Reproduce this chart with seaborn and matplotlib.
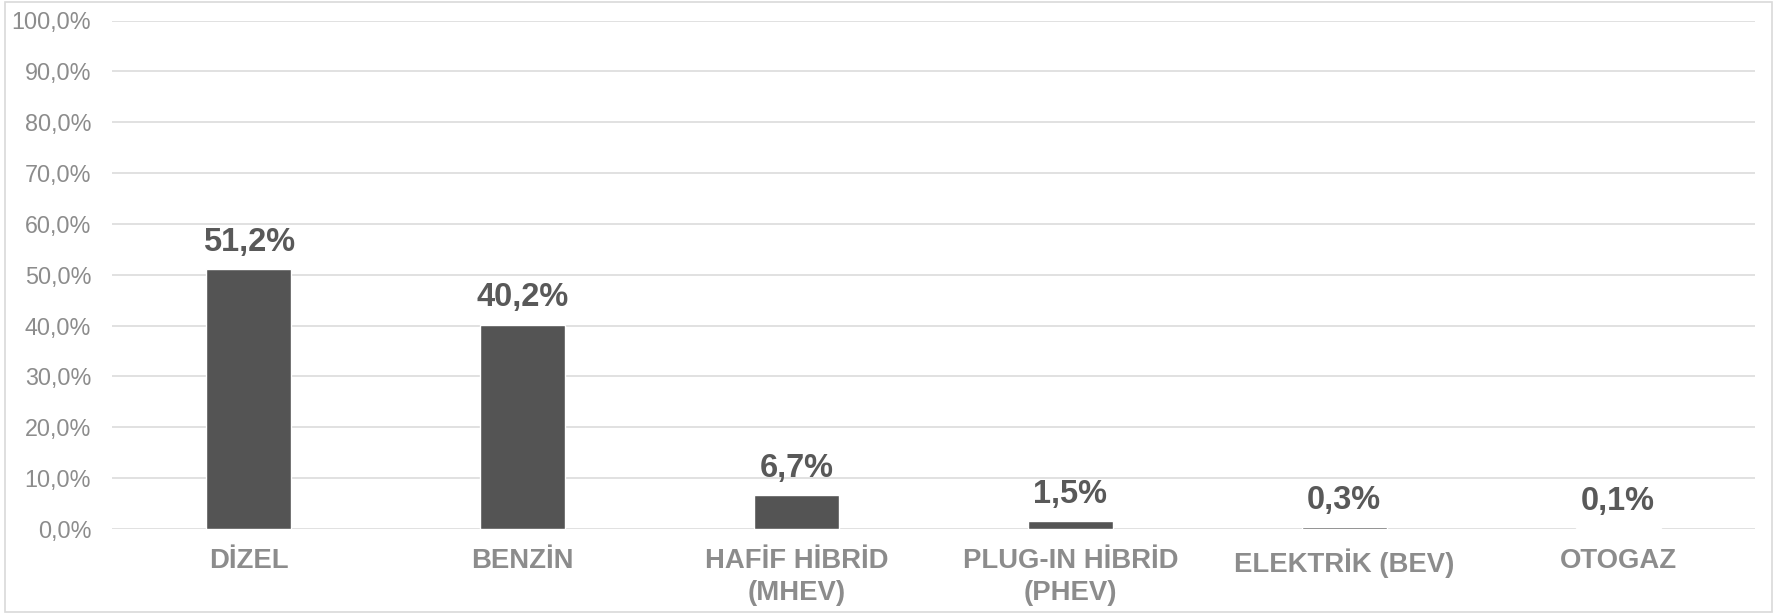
import matplotlib
matplotlib.use("Agg")
import matplotlib.pyplot as plt
from matplotlib.ticker import FuncFormatter, MultipleLocator
from matplotlib.patches import Rectangle
import pandas as pd
import seaborn as sns

# values
categories = ["DİZEL", "BENZİN", "HAFİF HİBRİD\n(MHEV)", "PLUG-IN HİBRİD\n(PHEV)",
              "ELEKTRİK (BEV)", "OTOGAZ"]
shares = [51.2, 40.2, 6.7, 1.5, 0.3, 0.1]

df = pd.DataFrame({"category": categories, "share": shares})

sns.set_theme(style="white")
plt.rcParams["font.family"] = ["Liberation Sans", "DejaVu Sans"]

bar_color = "#545454"
grid_color = "#d9d9d9"
tick_color = "#8c8c8c"
label_color = "#595959"

fig = plt.figure(figsize=(17.81, 6.13), dpi=100)
ax = fig.add_axes([112 / 1781, 1 - 529 / 613, (1755 - 112) / 1781, (529 - 20.5) / 613])

sns.barplot(data=df, x="category", y="share", color=bar_color, width=0.31,
            saturation=1, ax=ax)

ax.set_ylim(0, 100)
ax.yaxis.set_major_locator(MultipleLocator(10))
ax.yaxis.set_major_formatter(FuncFormatter(lambda v, _: f"{v:.1f}%".replace(".", ",")))
ax.grid(axis="y", color=grid_color, linewidth=1.1)
ax.set_axisbelow(True)
for s in ax.spines.values():
    s.set_visible(False)

ax.set_xlabel("")
ax.set_ylabel("")
ax.tick_params(axis="y", length=0, pad=15, labelsize=16.8, labelcolor=tick_color)
ax.tick_params(axis="x", length=0, pad=14, labelsize=19.8, labelcolor=tick_color)
for lbl in ax.get_xticklabels():
    lbl.set_fontweight("bold")
    lbl.set_linespacing(1.3)

for i, v in enumerate(shares):
    ax.annotate(f"{v:.1f}%".replace(".", ","), (i, v), xytext=(0, 8),
                textcoords="offset points", ha="center", va="bottom",
                fontsize=23.5, fontweight="bold", color=label_color)

# outer chart border
fig.patches.append(Rectangle((5 / 1781, 1 / 613), 1767 / 1781, 610 / 613,
                             transform=fig.transFigure, fill=False,
                             edgecolor=grid_color, linewidth=1.2))

fig.savefig("out.png", dpi=100)
